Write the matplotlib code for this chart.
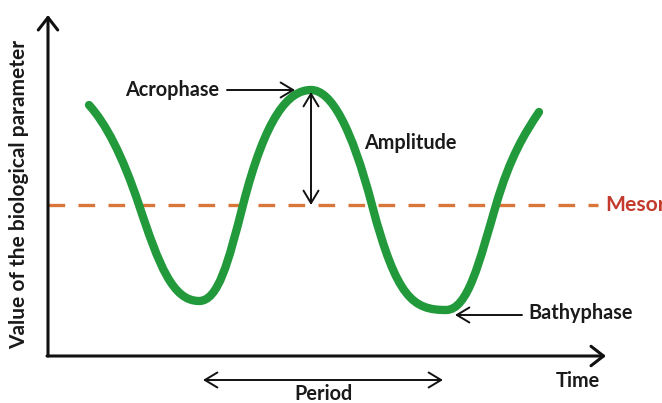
import matplotlib.pyplot as plt
from matplotlib.path import Path
from matplotlib.patches import PathPatch

# ---------------------- DATA (pixel units) ----------------------------------------------
# key points of the rhythm: start, mesor crossings, troughs, peak, end
key_x = [89, 139, 199, 243, 311, 372, 446, 496, 539]
key_y = [105, 205, 301, 205, 90, 205, 310, 205, 112]
# slope of the curve at each key point (dy/dx, y grows downwards)
key_slope = [1.1, 3.0, 0.0, -3.9, 0.0, 3.8, 0.0, -3.4, -1.5]

mesor = 205
acrophase = (311, 90)
bathyphase = (446, 310)
period = (203, 443)

y_label = "Value of the biological parameter"

# ---------------------- FIGURE ------------------------
fig = plt.figure(figsize=(6.62, 4.03), dpi=100)
ax = fig.add_axes([0, 0, 1, 1])
ax.set_xlim(0, 662)
ax.set_ylim(403, 0)
ax.axis('off')

font = dict(family=['Lato', 'DejaVu Sans'], fontweight='bold', color='#1a1a1a')
fs = 14.3

# axes with arrow heads
axis_arrow = dict(arrowstyle='->,head_length=0.45,head_width=0.35', lw=2.2,
                  color='#111111', mutation_scale=20, shrinkA=0, shrinkB=0)
ax.annotate('', xy=(48, 15), xytext=(48, 356), arrowprops=axis_arrow)
ax.annotate('', xy=(606, 356), xytext=(47, 356), arrowprops=axis_arrow)

# mesor dashed line (label runs off the right edge, as in the original)
ax.plot([48, 598], [mesor, mesor], color='#D9773A', lw=2.4, dashes=(5, 4), zorder=1)
ax.text(605, mesor, 'Mesor', color='#C43B2E', fontsize=15.2, va='center', ha='left',
        family=['Lato', 'DejaVu Sans'], fontweight='bold')

# the rhythm curve: cubic segments through the key points
# troughs are a little rounder than the peak, so give them longer handles
def handle(i, seg):
    if key_slope[i] == 0 and key_y[i] > mesor:
        return seg * 0.44
    return seg / 3

verts = [(key_x[0], key_y[0])]
codes = [Path.MOVETO]
for i in range(len(key_x) - 1):
    seg = key_x[i + 1] - key_x[i]
    h0, h1 = handle(i, seg), handle(i + 1, seg)
    verts += [(key_x[i] + h0, key_y[i] + key_slope[i] * h0),
              (key_x[i + 1] - h1, key_y[i + 1] - key_slope[i + 1] * h1),
              (key_x[i + 1], key_y[i + 1])]
    codes += [Path.CURVE4] * 3
ax.add_patch(PathPatch(Path(verts, codes), facecolor='none', edgecolor='#229A3C',
                       lw=6, capstyle='round', joinstyle='round', zorder=3))

thin = dict(arrowstyle='->,head_length=0.5,head_width=0.3', lw=1.4,
            color='#111111', mutation_scale=18, shrinkA=0, shrinkB=0)
both = dict(arrowstyle='<->,head_length=0.5,head_width=0.3', lw=1.4,
            color='#111111', mutation_scale=18, shrinkA=0, shrinkB=0)

# acrophase
ax.annotate('', xy=(acrophase[0] - 16, acrophase[1]), xytext=(227, acrophase[1]),
            arrowprops=thin, zorder=4)
ax.text(172, acrophase[1], 'Acrophase', fontsize=fs, ha='center', va='center', **font)

# amplitude
ax.annotate('', xy=(acrophase[0], acrophase[1] + 2), xytext=(acrophase[0], mesor),
            arrowprops=both, zorder=4)
ax.text(410, 143, 'Amplitude', fontsize=fs, ha='center', va='center', **font)

# bathyphase
ax.annotate('', xy=(bathyphase[0] + 9, bathyphase[1] + 5), xytext=(522, bathyphase[1] + 5),
            arrowprops=thin, zorder=4)
ax.text(581, 313, 'Bathyphase', fontsize=fs, ha='center', va='center', **font)

# period
ax.annotate('', xy=(period[0], 380), xytext=(period[1], 380), arrowprops=both)
ax.text((period[0] + period[1]) / 2, 394, 'Period', fontsize=fs, ha='center',
        va='center', **font)

ax.text(578, 381, 'Time', fontsize=fs, ha='center', va='center', **font)

ax.text(19, 194, y_label, fontsize=15, rotation=90, ha='center', va='center', **font)

fig.savefig('out.png', dpi=100)
